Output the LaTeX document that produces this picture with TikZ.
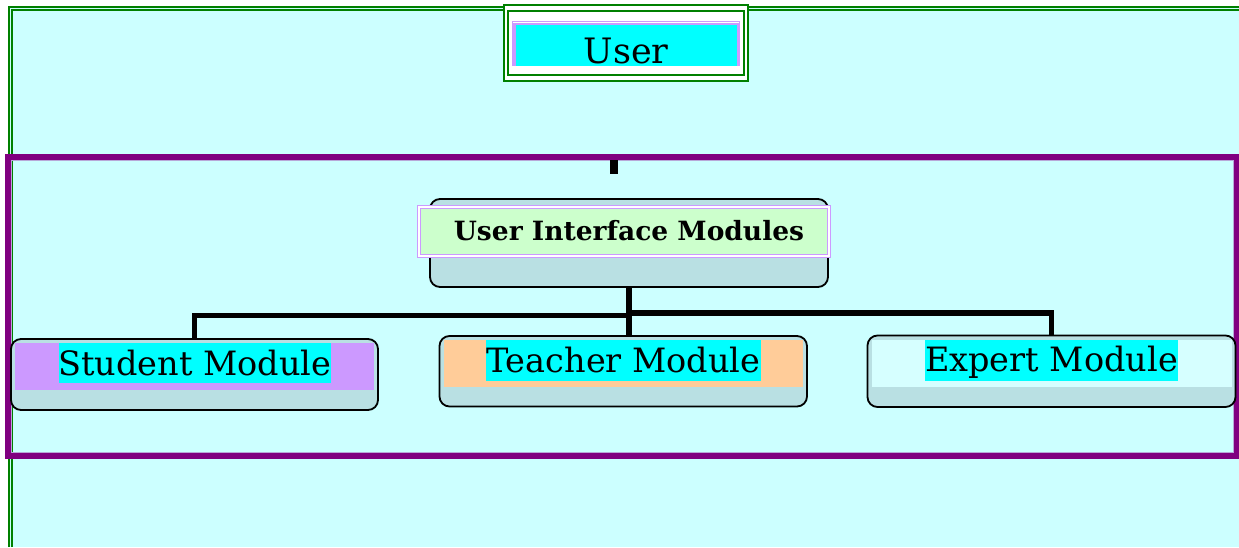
\documentclass[tikz,border=0pt]{standalone}
\usepackage{fontspec}
\setmainfont{DejaVu Serif}
\definecolor{bgcyan}{HTML}{CCFFFF}
\definecolor{framegreen}{HTML}{008000}
\definecolor{purp}{HTML}{800080}
\definecolor{purpthin}{HTML}{B8A8D8}
\definecolor{boxfill}{HTML}{B9E0E3}
\definecolor{lav}{HTML}{CC99FF}
\definecolor{peach}{HTML}{FFCC99}
\definecolor{hlcyan}{HTML}{00FFFF}
\definecolor{lgreen}{HTML}{CCFFCC}
\definecolor{pcyan}{HTML}{D6FFFF}
\tikzset{
  modbox/.style={draw=black,line width=1.8,fill=boxfill,rounded corners=10,inner sep=0,minimum width=#1,minimum height=71},
  band/.style={fill=#1,inner sep=0},
  hl/.style={fill=hlcyan,inner xsep=0,inner ysep=0,anchor=base,font=\fontsize{33.5}{38}\selectfont},
  conn/.style={draw=black,line width=5.5},
}
\begin{document}
\begin{tikzpicture}[x=1pt,y=-1pt]
\useasboundingbox (0,0) rectangle (1239,547);
\fill[white] (0,0) rectangle (1239,547);
\fill[bgcyan] (8,6) rectangle (1239,547);
\draw[framegreen,line width=2] (8.5,547) -- (8.5,6.5) -- (1239,6.5);
\draw[framegreen,line width=2] (11.8,547) -- (11.8,9.8) -- (1239,9.8);

% User box
\node[draw=framegreen,line width=2.4,fill=white,minimum width=244,minimum height=76,inner sep=0] (userouter) at (626,43) {};
\node[draw=framegreen,line width=2.4,fill=white,minimum width=236,minimum height=64,inner sep=0] (userinner) at (626,43) {};
\node[band=lav,minimum width=228,minimum height=45] (userlav) at (626,43.5) {};
\draw[white,line width=1] (userlav.north west) ++(1,2) -- ++(226,0);
\node[band=hlcyan,minimum width=221,minimum height=41] (userhl) at (626.5,45.5) {};
\node[anchor=base,inner sep=0,font=\fontsize{35}{40}\selectfont] (user) at (626,63.3) {User};

% purple frame
\draw[purp,line width=6] (8,157) rectangle (1236.5,456);
\draw[purpthin,line width=0.8] (11.5,160.5) rectangle (1233,452.5);
\coordinate (stubtop) at (613.5,160);
\coordinate (stubend) at (613.5,174);
\draw[conn,line width=8] (stubtop) -- (stubend);

% UI modules
\node[modbox=398,minimum height=88] (ui) at (629,243) {};
\node[draw=lav,line width=1.2,fill=white,minimum width=413,minimum height=52,inner sep=0] (uiouter) at (624,231.5) {};
\node[draw=lav,line width=1.2,fill=lgreen,minimum width=407,minimum height=46,inner sep=0] (uiinner) at (624,231.5) {};
\node[anchor=base,inner sep=0,font=\fontsize{26.5}{30}\selectfont\bfseries] (uitext) at (629,240) {User Interface Modules};

% modules
\node[modbox=367] (student) at (194.5,374.5) {};
\node[band=lav,minimum width=359,minimum height=47] (studentband) at (194.5,366.5) {};
\node[hl,text height=32,text depth=8] (studenttext) at (195,375) {Student Module};

\node[modbox=367.5,minimum height=70.5] (teacher) at (623.25,371.25) {};
\node[band=peach,minimum width=359,minimum height=46.7] (teacherband) at (623.6,363.35) {};
\node[hl,text height=32.7,text depth=8.3] (teachertext) at (623.3,372.7) {Teacher Module};

\node[modbox=368,minimum height=71.5] (expert) at (1051.5,371.25) {};
\node[band=pcyan,minimum width=360,minimum height=47] (expertband) at (1052,363.5) {};
\node[hl,text height=31.7,text depth=9.3] (experttext) at (1051.5,371.7) {Expert Module};

% connectors
\draw[conn] (ui.south) -- ++(0,27.5) -| (student.north);
\draw[conn] (ui.south) -- ++(0,25) -| (expert.north);
\draw[conn] (ui.south) -- (ui.south |- teacher.north);
\end{tikzpicture}
\end{document}
